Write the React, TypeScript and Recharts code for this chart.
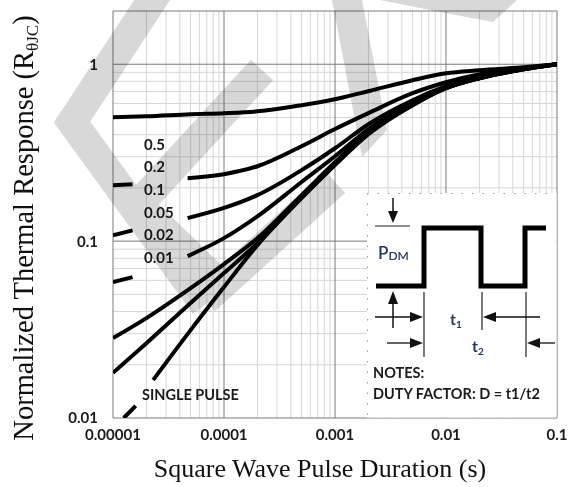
import React from 'react';
import { LineChart, Line, XAxis, YAxis, CartesianGrid } from 'recharts';

// ---- axis ticks ----
const xTicks = [0.00001, 0.0001, 0.001, 0.01, 0.1];
const xTickLabels = ['0.00001', '0.0001', '0.001', '0.01', '0.1'];
const yTicks = [0.01, 0.1, 1];
const yTickLabels = ['0.01', '0.1', '1'];
const xMinor = [2, 3, 4, 5, 6, 7, 8, 9].flatMap((m) => [1e-5, 1e-4, 1e-3, 1e-2].map((d) => m * d));
const yMinor = [2, 3, 4, 5, 6, 7, 8, 9].flatMap((m) => [0.01, 0.1].map((d) => m * d));

// ---- curve labels ----
const dutyLabels = ['0.5', '0.2', '0.1', '0.05', '0.02', '0.01'];
const singleLabel = 'SINGLE PULSE';

// ---- series (pulse duration in s, normalized Zth) ; null = gap behind a label ----
const tD05 = [1e-5, 2e-5, 5e-5, 1e-4, 2e-4, 5e-4, 1e-3, 2e-3, 5e-3, 1e-2, 2e-2, 5e-2, 1e-1];
const zD05 = [0.502, 0.508, 0.522, 0.529, 0.542, 0.587, 0.634, 0.704, 0.812, 0.889, 0.925, 0.962, 1.0];

const tD02 = [1e-5, 1.5e-5, 3e-5, 4.7e-5, 1e-4, 2e-4, 5e-4, 1e-3, 2e-3, 5e-3, 1e-2, 2e-2, 5e-2, 1e-1];
const zD02 = [0.207, 0.21, null, 0.227, 0.239, 0.265, 0.344, 0.43, 0.529, 0.686, 0.791, 0.879, 0.949, 1.0];

const tD01 = [1e-5, 1.5e-5, 3e-5, 4.7e-5, 1e-4, 2e-4, 5e-4, 1e-3, 2e-3, 5e-3, 1e-2, 2e-2, 5e-2, 1e-1];
const zD01 = [0.108, 0.115, null, 0.135, 0.154, 0.182, 0.252, 0.335, 0.458, 0.626, 0.751, 0.855, 0.949, 1.0];

const tD005 = [1e-5, 1.5e-5, 3e-5, 4.7e-5, 1e-4, 2e-4, 5e-4, 1e-3, 2e-3, 5e-3, 1e-2, 2e-2, 5e-2, 1e-1];
const zD005 = [0.0587, 0.0626, null, 0.0823, 0.104, 0.138, 0.216, 0.302, 0.43, 0.61, 0.741, 0.845, 0.937, 1.0];

const tD002 = [1e-5, 2e-5, 5e-5, 1e-4, 2e-4, 5e-4, 1e-3, 2e-3, 5e-3, 1e-2, 2e-2, 5e-2, 1e-1];
const zD002 = [0.0283, 0.0367, 0.0542, 0.0742, 0.104, 0.182, 0.279, 0.413, 0.594, 0.732, 0.834, 0.937, 1.0];

const tD001 = [1e-5, 2e-5, 5e-5, 1e-4, 2e-4, 5e-4, 1e-3, 2e-3, 5e-3, 1e-2, 2e-2, 5e-2, 1e-1];
const zD001 = [0.018, 0.0265, 0.0447, 0.066, 0.0974, 0.177, 0.272, 0.408, 0.587, 0.732, 0.834, 0.937, 1.0];

const tSingle = [1.25e-5, 1.6e-5, 2e-5, 2.3e-5, 5e-5, 1e-4, 2e-4, 5e-4, 1e-3, 2e-3, 5e-3, 1e-2, 2e-2, 5e-2, 1e-1];
const zSingle = [0.01, 0.0117, null, 0.0164, 0.0314, 0.055, 0.0949, 0.175, 0.269, 0.402, 0.587, 0.732, 0.834, 0.937, 1.0];

const toPts = (ts: number[], zs: (number | null)[]) => ts.map((t, i) => ({ t, z: zs[i] }));
const series = [
  toPts(tD05, zD05),
  toPts(tD02, zD02),
  toPts(tD01, zD01),
  toPts(tD005, zD005),
  toPts(tD002, zD002),
  toPts(tD001, zD001),
  toPts(tSingle, zSingle),
];

const FONT = 'Lato, "Open Sans", sans-serif';
const SERIF = '"Liberation Serif", "DejaVu Serif", serif';
const NAVY = '#1f3864';

const scaleOf = (axis: any, v: number, fallback: number) => {
  const s = axis && axis.scale;
  if (typeof s === 'function') return s(v);
  if (s && typeof s.map === 'function') return s.map(v);
  return fallback;
};

const vGen = (list: number[]) => (args: any) => {
  const off = args.offset;
  return list.map((v) =>
    scaleOf(args.xAxis, v, off.left + ((Math.log10(v) + 5) / 4) * off.width)
  );
};
const hGen = (list: number[]) => (args: any) => {
  const off = args.offset;
  const lo = Math.log10(0.01);
  const hi = Math.log10(2);
  return list.map((v) =>
    scaleOf(args.yAxis, v, off.top + (1 - (Math.log10(v) - lo) / (hi - lo)) * off.height)
  );
};

const XTick = (props: any) => {
  const { x, y, payload } = props;
  const i = xTicks.indexOf(payload.value);
  return (
    <text x={x} y={y} dy="0.71em" textAnchor="middle" fontFamily={FONT} fontWeight={700} fontSize={15} fill="#1a1a1a">
      {i >= 0 ? xTickLabels[i] : ''}
    </text>
  );
};
const YTick = (props: any) => {
  const { x, y, payload } = props;
  const i = yTicks.indexOf(payload.value);
  return (
    <text x={x} y={y} dy="0.36em" textAnchor="end" fontFamily={FONT} fontWeight={700} fontSize={15} fill="#1a1a1a">
      {i >= 0 ? yTickLabels[i] : ''}
    </text>
  );
};

const labelYs = [145, 167, 190, 213, 235, 258];

export default function App() {
  return (
    <div style={{ position: 'absolute', left: 0, top: 0, width: 568, height: 487, background: '#fff' }}>
      <LineChart width={568} height={487} margin={{ top: 11, right: 11, bottom: 0, left: 0 }}>
        <CartesianGrid
          stroke="#d6d6d6"
          strokeWidth={1}
          verticalCoordinatesGenerator={vGen(xMinor)}
          horizontalCoordinatesGenerator={hGen(yMinor)}
        />
        <CartesianGrid
          stroke="#7a7a7a"
          strokeWidth={1}
          verticalCoordinatesGenerator={vGen([1e-5, 1e-4, 1e-3, 1e-2, 1e-1])}
          horizontalCoordinatesGenerator={hGen([0.01, 0.1, 1, 2])}
        />
        <XAxis
          dataKey="t"
          type="number"
          scale="log"
          domain={[0.00001, 0.1]}
          ticks={xTicks}
          allowDataOverflow
          height={69}
          tickSize={0}
          tickMargin={11}
          tickLine={false}
          axisLine={false}
          tick={<XTick />}
        />
        <YAxis
          dataKey="z"
          type="number"
          scale="log"
          domain={[0.01, 2]}
          ticks={yTicks}
          allowDataOverflow
          width={113}
          tickSize={0}
          tickMargin={15}
          tickLine={false}
          axisLine={false}
          tick={<YTick />}
        />
        {series.map((pts, i) => (
          <Line
            key={i}
            data={pts}
            dataKey="z"
            type="monotone"
            stroke="#000"
            strokeWidth={4}
            dot={false}
            activeDot={false}
            connectNulls={false}
            isAnimationActive={false}
          />
        ))}
      </LineChart>

      {/* annotations */}
      <svg width={568} height={487} style={{ position: 'absolute', left: 0, top: 0, pointerEvents: 'none' }}>
        {/* inset */}
        <rect x={367} y={193} width={189.5} height={224.5} fill="#fff" />
        <line x1={367} y1={193.5} x2={556} y2={193.5} stroke="#999" strokeWidth={1} strokeDasharray="1.5 9" />
        <line x1={367.5} y1={193} x2={367.5} y2={417} stroke="#999" strokeWidth={1} strokeDasharray="1.5 9" />
        <polyline points="376,286 424,286 424,228 481,228 481,286 525,286 525,228 546,228" fill="none" stroke="#000" strokeWidth={5} strokeLinejoin="miter" />
        <line x1={375} y1={226} x2={410} y2={226} stroke="#222" strokeWidth={1.2} />
        <line x1={393} y1={198} x2={393} y2={212} stroke="#111" strokeWidth={1.5} />
        <polygon points="388,211 398,211 393,223" fill="#111" />
        <line x1={393} y1={303} x2={393} y2={328} stroke="#111" strokeWidth={1.5} />
        <polygon points="388,304 398,304 393,291" fill="#111" />
        <line x1={424} y1={292} x2={424} y2={357} stroke="#222" strokeWidth={1.2} />
        <line x1={482} y1={292} x2={482} y2={330} stroke="#222" strokeWidth={1.2} />
        <line x1={526} y1={292} x2={526} y2={357} stroke="#222" strokeWidth={1.2} />
        <line x1={375} y1={317} x2={412} y2={317} stroke="#111" strokeWidth={1.3} />
        <polygon points="410,312 410,322 423,317" fill="#111" />
        <line x1={494} y1={317} x2={540} y2={317} stroke="#111" strokeWidth={1.3} />
        <polygon points="496,312 496,322 483,317" fill="#111" />
        <line x1={387} y1={343} x2={412} y2={343} stroke="#111" strokeWidth={1.3} />
        <polygon points="410,338 410,348 423,343" fill="#111" />
        <line x1={538} y1={343} x2={555} y2={343} stroke="#111" strokeWidth={1.3} />
        <polygon points="540,338 540,348 527,343" fill="#111" />
        <text x={378} y={259} fontFamily={FONT} fontWeight={600} fontSize={17} fill={NAVY}>
          P<tspan fontSize={12} dy={1}>DM</tspan>
        </text>
        <text x={450} y={325} fontFamily={FONT} fontWeight={700} fontSize={16} fill={NAVY}>
          t<tspan fontSize={10} dy={3}>1</tspan>
        </text>
        <text x={472} y={352} fontFamily={FONT} fontWeight={700} fontSize={16} fill={NAVY}>
          t<tspan fontSize={10} dy={3}>2</tspan>
        </text>
        <text x={373} y={378} fontFamily={FONT} fontWeight={700} fontSize={14.5} fill="#1a1a1a">NOTES:</text>
        <text x={373} y={399} fontFamily={FONT} fontWeight={700} fontSize={14.5} fill="#1a1a1a">DUTY FACTOR: D = t1/t2</text>

        {/* curve labels */}
        {dutyLabels.map((s, i) => (
          <text key={s} x={144} y={labelYs[i]} dy="0.36em" fontFamily={FONT} fontWeight={700} fontSize={15} fill="#1a1a1a">
            {s}
          </text>
        ))}
        <text x={142} y={395} dy="0.36em" fontFamily={FONT} fontWeight={700} fontSize={14.5} fill="#1a1a1a">
          {singleLabel}
        </text>

        {/* axis titles */}
        <text x={320} y={477} textAnchor="middle" fontFamily={SERIF} fontSize={26} fill="#111">
          Square Wave Pulse Duration (s)
        </text>
        <text x={33} y={228} transform="rotate(-90 33 228)" textAnchor="middle" fontFamily={SERIF} fontSize={28.5} fill="#111">
          Normalized Thermal Response (R<tspan fontSize={17} dy={5}>θJC</tspan><tspan dy={-5}>)</tspan>
        </text>
      </svg>

      {/* watermark */}
      <svg width={568} height={487} style={{ position: 'absolute', left: 0, top: 0, pointerEvents: 'none', mixBlendMode: 'multiply' }}>
        <g fill="none" stroke="#d8d8d8" strokeWidth={30} strokeLinejoin="miter" strokeLinecap="butt">
          <polyline points="160,-12 72,122 205,305" />
          <polyline points="262,70 138,205 210,275" />
          <polyline points="205,300 335,182" />
        </g>
        <polygon points="332,0 362,0 387,130 362,157" fill="#d8d8d8" />
        <polygon points="380,0 517,0 493,22 440,12" fill="#d8d8d8" />
      </svg>
    </div>
  );
}
